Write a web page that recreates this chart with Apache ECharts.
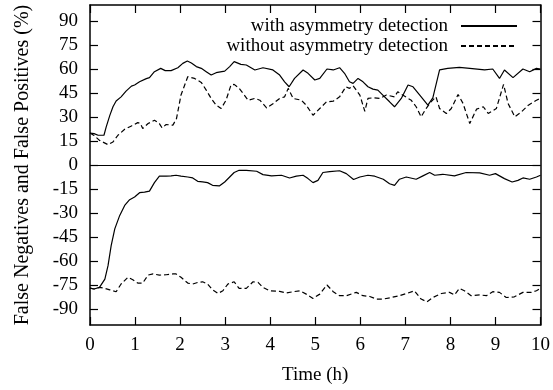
<!DOCTYPE html>
<html>
<head>
<meta charset="utf-8">
<script src="https://cdn.jsdelivr.net/npm/echarts@6/dist/echarts.min.js"></script>
<style>
  html, body { margin: 0; padding: 0; background: #fff; }
  #chart { width: 553px; height: 390px; }
</style>
</head>
<body>
<div id="chart"></div>
<script>
// series names
const seriesNames = ['with asymmetry detection', 'without asymmetry detection'];
const yTicks = [-90, -75, -60, -45, -30, -15, 0, 15, 30, 45, 60, 75, 90];

// [hour, %] — false positives (upper half)
const withFP = [
  [0, 20], [0.09, 19.6], [0.18, 18.6], [0.31, 18.6], [0.36, 23.8], [0.44, 31], [0.51, 36.4],
  [0.58, 40], [0.69, 42.6], [0.8, 46.2], [0.92, 49.3], [0.99, 50], [1.1, 52], [1.25, 54],
  [1.32, 54.6], [1.43, 58.3], [1.57, 60.4], [1.67, 59], [1.8, 59], [1.95, 60.8], [2.06, 63.5],
  [2.16, 65], [2.25, 63.8], [2.36, 61.5], [2.47, 60.4], [2.58, 58.3], [2.69, 56.2], [2.8, 57.7],
  [2.99, 58.7], [3.1, 61.5], [3.2, 64.6], [3.35, 62.9], [3.47, 62.5], [3.66, 59.4], [3.84, 60.8],
  [4.06, 59.4], [4.21, 56.2], [4.32, 52], [4.42, 48.9], [4.54, 54.1], [4.73, 59.4], [4.84, 57.3],
  [4.99, 53.1], [5.1, 54.1], [5.26, 60], [5.4, 59.4], [5.54, 60.8], [5.65, 57.3], [5.76, 52],
  [5.84, 51], [5.95, 54.1], [6.06, 52], [6.17, 48.9], [6.28, 47.4], [6.39, 46.8], [6.5, 43.7],
  [6.65, 39.5], [6.76, 36.4], [6.91, 41.6], [7.06, 50], [7.17, 48.9], [7.32, 43.7], [7.5, 37.4],
  [7.61, 42], [7.76, 59.4], [7.94, 60.4], [8.2, 61], [8.43, 60.4], [8.76, 59.4], [8.94, 60],
  [9.09, 54.1], [9.2, 59.4], [9.39, 54.6], [9.61, 60], [9.76, 58.3], [9.91, 60.4], [10, 60]
];
const withoutFP = [
  [0, 20], [0.09, 18.5], [0.21, 15.4], [0.4, 12.7], [0.51, 14.4], [0.62, 18.6], [0.77, 22.3],
  [0.92, 24.4], [1.06, 26.5], [1.12, 25.9], [1.17, 22.8], [1.29, 25.9], [1.43, 28], [1.54, 25.9],
  [1.6, 23.2], [1.69, 25.3], [1.84, 24.9], [1.92, 29], [2.02, 43.7], [2.17, 55.2], [2.32, 54.1],
  [2.47, 51.6], [2.58, 46.8], [2.69, 41.6], [2.8, 37.4], [2.91, 35.3], [3.02, 40.5], [3.13, 50],
  [3.2, 50.4], [3.31, 47.9], [3.4, 44.7], [3.51, 40.5], [3.66, 41.6], [3.77, 40.5], [3.92, 35.7],
  [4.07, 38.5], [4.21, 41.6], [4.32, 42.6], [4.4, 47.9], [4.51, 41.6], [4.69, 40.5], [4.8, 37.4],
  [4.95, 31.1], [5.1, 35.3], [5.25, 39.5], [5.4, 39.9], [5.54, 42.6], [5.68, 48.9], [5.76, 47.9],
  [5.84, 49.5], [5.99, 43.7], [6.1, 33.6], [6.17, 41.6], [6.28, 42], [6.43, 41.6], [6.58, 43.7],
  [6.76, 42.6], [6.83, 45.8], [6.94, 43.7], [7.13, 40.5], [7.24, 36.4], [7.35, 30.1], [7.46, 35.3],
  [7.57, 39.5], [7.68, 42.6], [7.76, 35.3], [7.91, 32.2], [8.02, 35.3], [8.17, 44.1], [8.28, 38.5],
  [8.43, 25.9], [8.58, 34.9], [8.73, 36.4], [8.84, 32.2], [9.02, 35.3], [9.18, 50.4], [9.28, 38.5],
  [9.43, 30.1], [9.58, 33.3], [9.73, 37.4], [9.91, 40.5], [10, 41.6]
];

// [hour, %] — false negatives (lower half)
const withFN = [
  [0, -77], [0.09, -77.5], [0.21, -76.5], [0.33, -71.3], [0.4, -62.9], [0.47, -50.4], [0.55, -39.9],
  [0.66, -31.5], [0.77, -25.3], [0.88, -21.7], [0.99, -20], [1.1, -17.3], [1.21, -16.9],
  [1.32, -16.3], [1.43, -11], [1.54, -7], [1.69, -7], [1.8, -6.8], [1.91, -6.4], [2.02, -7],
  [2.17, -7.5], [2.28, -8.1], [2.39, -10.2], [2.5, -10.6], [2.61, -11], [2.72, -12.7], [2.87, -13.1],
  [2.99, -10.6], [3.2, -4.7], [3.31, -3.3], [3.47, -3.3], [3.7, -3.9], [3.84, -6], [4.03, -6.8],
  [4.25, -6.4], [4.43, -8.1], [4.58, -7], [4.73, -6.4], [4.84, -8.5], [4.95, -11], [5.06, -9.6],
  [5.17, -4.7], [5.32, -4.2], [5.54, -3.6], [5.69, -5.4], [5.85, -9.1], [5.99, -7.5], [6.17, -6.4],
  [6.32, -7], [6.51, -8.9], [6.65, -11.7], [6.76, -12.7], [6.87, -8.9], [7.02, -7.5], [7.24, -8.9],
  [7.39, -6.8], [7.54, -4.7], [7.65, -6.4], [7.83, -5.8], [8.09, -6.8], [8.35, -4.7], [8.65, -4.9],
  [8.87, -6.4], [9.0, -5.4], [9.2, -8.5], [9.37, -10.6], [9.5, -9.6], [9.61, -8.1], [9.76, -8.9],
  [9.91, -7.5], [10, -6.4]
];
const withoutFN = [
  [0, -77], [0.09, -77.5], [0.21, -76.5], [0.33, -77.1], [0.44, -78], [0.58, -79.2], [0.69, -74.4],
  [0.84, -70.2], [0.95, -71.7], [1.06, -73.8], [1.17, -73.8], [1.29, -68.8], [1.4, -68.1],
  [1.54, -68.8], [1.69, -68.6], [1.84, -68.1], [1.91, -68.1], [2.02, -70.2], [2.17, -73.8],
  [2.28, -74.4], [2.39, -73.4], [2.5, -73], [2.61, -74.4], [2.72, -78], [2.84, -80.3], [2.95, -78.6],
  [3.06, -74.4], [3.2, -73], [3.31, -77.1], [3.47, -77.1], [3.62, -73], [3.73, -73.4], [3.84, -76.5],
  [3.99, -78.6], [4.21, -79], [4.36, -80], [4.51, -79.2], [4.66, -78.6], [4.8, -80.7], [4.95, -83.4],
  [5.1, -80.7], [5.26, -75], [5.4, -79.2], [5.54, -81.7], [5.69, -81.7], [5.91, -79.6], [6.06, -81.7],
  [6.21, -82.2], [6.36, -83.8], [6.51, -83.8], [6.69, -82.8], [6.87, -81.7], [7.06, -80], [7.2, -78.6],
  [7.35, -83.8], [7.48, -85.5], [7.61, -82.8], [7.8, -80.3], [7.98, -79.6], [8.09, -81.2], [8.2, -77.1],
  [8.31, -78.6], [8.46, -81.7], [8.65, -81.2], [8.8, -81.7], [8.94, -79.2], [9.09, -79.6], [9.24, -82.8],
  [9.42, -82.4], [9.61, -79.6], [9.79, -79.6], [9.91, -78.6], [10, -77.1]
];

const chart = echarts.init(document.getElementById('chart'));
const font = 'Liberation Serif';
const fs = 19;
const axisLine = { show: true, onZero: false, lineStyle: { color: '#000', width: 1.5 } };
const tick = { show: true, inside: true, length: 8, lineStyle: { color: '#000', width: 1.2 } };
const solid = { color: '#000', width: 1.2, type: 'solid' };
const dashed = { color: '#000', width: 1.2, type: [5, 3] };

chart.setOption({
  animation: false,
  textStyle: { fontFamily: font },
  grid: { left: 90, top: 5, width: 451.5, height: 320, containLabel: false },
  legend: {
    orient: 'vertical',
    right: 35,
    top: 16,
    padding: 0,
    align: 'right',
    itemWidth: 56,
    itemHeight: 14,
    itemGap: 0,
    itemStyle: { opacity: 0 },
    textStyle: { fontFamily: font, fontSize: fs, lineHeight: 20, color: '#000', padding: [0, 8, 0, 0] },
    data: seriesNames
  },
  xAxis: [
    {
      type: 'value', min: 0, max: 10, interval: 1, position: 'bottom',
      name: 'Time (h)', nameLocation: 'middle', nameGap: 41,
      nameTextStyle: { fontFamily: font, fontSize: fs, color: '#000' },
      axisLine: axisLine, axisTick: tick, splitLine: { show: false },
      axisLabel: { color: '#000', fontSize: fs, fontFamily: font, margin: 11 }
    },
    {
      type: 'value', min: 0, max: 10, interval: 1, position: 'top',
      axisLine: axisLine, axisTick: tick, splitLine: { show: false },
      axisLabel: { show: false }
    }
  ],
  yAxis: [
    {
      type: 'value', min: -100, max: 100, position: 'left',
      name: 'False Negatives and False Positives (%)', nameLocation: 'middle', nameGap: 57,
      nameTextStyle: { fontFamily: font, fontSize: 20, color: '#000' },
      axisLine: axisLine,
      axisTick: Object.assign({ customValues: yTicks }, tick),
      splitLine: { show: false },
      axisLabel: { customValues: yTicks, color: '#000', fontSize: fs, fontFamily: font, margin: 12 }
    },
    {
      type: 'value', min: -100, max: 100, position: 'right',
      axisLine: axisLine,
      axisTick: Object.assign({ customValues: yTicks }, tick),
      splitLine: { show: false },
      axisLabel: { show: false }
    }
  ],
  series: [
    {
      name: seriesNames[0], type: 'line', data: withFP, symbol: 'none', lineStyle: solid,
      itemStyle: { color: '#000' },
      markLine: {
        silent: true, symbol: 'none', label: { show: false },
        lineStyle: { color: '#000', width: 1, type: 'solid' },
        data: [{ yAxis: 0 }]
      }
    },
    { name: seriesNames[1], type: 'line', data: withoutFP, symbol: 'none', lineStyle: dashed, itemStyle: { color: '#000' } },
    { name: seriesNames[0], type: 'line', data: withFN, symbol: 'none', lineStyle: solid, itemStyle: { color: '#000' } },
    { name: seriesNames[1], type: 'line', data: withoutFN, symbol: 'none', lineStyle: dashed, itemStyle: { color: '#000' } }
  ]
});
</script>
</body>
</html>
